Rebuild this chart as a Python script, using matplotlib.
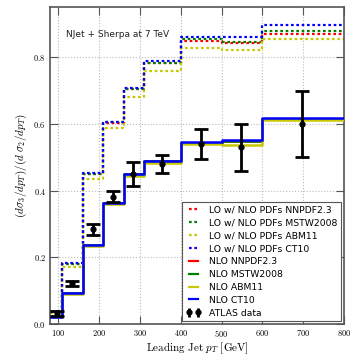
import matplotlib
matplotlib.use("Agg")
import matplotlib.pyplot as plt
from matplotlib.lines import Line2D
from matplotlib.ticker import FuncFormatter, MultipleLocator

plt.rcParams["mathtext.fontset"] = "cm"
plt.rcParams["font.family"] = "DejaVu Sans"

edges = [80, 110, 160, 210, 260, 310, 400, 500, 600, 800]

# LO with NLO PDFs (dotted)
lo_nnpdf = [0.035, 0.180, 0.450, 0.604, 0.704, 0.782, 0.850, 0.842, 0.870]
lo_mstw = [0.035, 0.180, 0.450, 0.605, 0.706, 0.783, 0.855, 0.847, 0.879]
lo_abm = [0.033, 0.172, 0.435, 0.587, 0.682, 0.760, 0.829, 0.822, 0.855]
lo_ct10 = [0.036, 0.182, 0.452, 0.607, 0.709, 0.789, 0.862, 0.862, 0.897]

# NLO (solid)
nlo_nnpdf = [0.022, 0.092, 0.237, 0.363, 0.449, 0.489, 0.544, 0.550, 0.616]
nlo_mstw = [0.022, 0.092, 0.237, 0.363, 0.449, 0.488, 0.543, 0.548, 0.615]
nlo_abm = [0.021, 0.090, 0.234, 0.360, 0.445, 0.484, 0.539, 0.537, 0.611]
nlo_ct10 = [0.022, 0.092, 0.237, 0.364, 0.450, 0.490, 0.545, 0.552, 0.617]

# ATLAS data
atlas_x = [97, 133, 186, 235, 284, 354, 449, 548, 698]
atlas_y = [0.032, 0.122, 0.284, 0.382, 0.450, 0.480, 0.540, 0.530, 0.600]
atlas_err = [0.008, 0.008, 0.016, 0.017, 0.035, 0.027, 0.046, 0.070, 0.100]

colors = {"NNPDF2.3": "#ff0000", "MSTW2008": "#008000", "ABM11": "#c8c800", "CT10": "#0000ff"}

fig = plt.figure(figsize=(3.57, 3.57), dpi=100)
ax = fig.add_axes([0.14, 0.092, 0.824, 0.888])

def step(vals, **kw):
    ax.step(edges, vals + [vals[-1]], where="post", **kw)

for name, vals in [("NNPDF2.3", lo_nnpdf), ("MSTW2008", lo_mstw), ("ABM11", lo_abm), ("CT10", lo_ct10)]:
    step(vals, color=colors[name], lw=1.6, ls=(0, (1.2, 1.2)), zorder=2)
for name, vals in [("NNPDF2.3", nlo_nnpdf), ("MSTW2008", nlo_mstw), ("ABM11", nlo_abm), ("CT10", nlo_ct10)]:
    step(vals, color=colors[name], lw=1.8, zorder=3)

ax.errorbar(atlas_x, atlas_y, yerr=atlas_err, fmt="o", color="black", ms=3.5,
            elinewidth=2, capsize=5, capthick=2, zorder=5)

ax.set_xlim(80, 800)
ax.set_ylim(0, 0.95)
ax.xaxis.set_major_locator(MultipleLocator(100))
ax.yaxis.set_major_locator(MultipleLocator(0.2))
ax.xaxis.set_major_formatter(FuncFormatter(lambda v, p: "$%d$" % v))
ax.yaxis.set_major_formatter(FuncFormatter(lambda v, p: "$%.1f$" % v))
ax.tick_params(direction="in", length=6, width=0.8, labelsize=6, top=True, right=True,
               colors="#555555", labelcolor="black", pad=3)
ax.grid(True, ls=":", color="#bbbbbb", lw=0.8)
for s in ax.spines.values():
    s.set_color("#555555")
    s.set_linewidth(1.2)

ax.set_xlabel(r"$\mathrm{Leading\ Jet}\ p_T\ [\mathrm{GeV}]$", fontsize=8, labelpad=1)
ax.set_ylabel(r"$(d\sigma_3/dp_T)/(d\ \sigma_2/dp_T)$", fontsize=8, labelpad=3)
ax.text(0.055, 0.905, "NJet + Sherpa at 7 TeV", transform=ax.transAxes, fontsize=6.5, color="#222222")

handles = []
for name in ["NNPDF2.3", "MSTW2008", "ABM11", "CT10"]:
    handles.append(Line2D([0], [0], color=colors[name], lw=1.6, ls=(0, (1.2, 1.2)),
                          label="LO w/ NLO PDFs " + name))
for name in ["NNPDF2.3", "MSTW2008", "ABM11", "CT10"]:
    handles.append(Line2D([0], [0], color=colors[name], lw=1.6, label="NLO " + name))
eb = ax.errorbar([], [], yerr=[], fmt="o", color="black", ms=3.5, elinewidth=2, capsize=4, capthick=2)
handles.append(eb)
labels = [h.get_label() for h in handles[:-1]] + ["ATLAS data"]
leg = ax.legend(handles, labels, loc="lower right", fontsize=6.7, numpoints=2, handlelength=1.6,
                labelspacing=0.42, fancybox=False, edgecolor="#555555", framealpha=1,
                borderpad=0.4, handletextpad=0.9, borderaxespad=0.3)
leg.get_frame().set_linewidth(0.8)

fig.savefig("out.png", dpi=100)
